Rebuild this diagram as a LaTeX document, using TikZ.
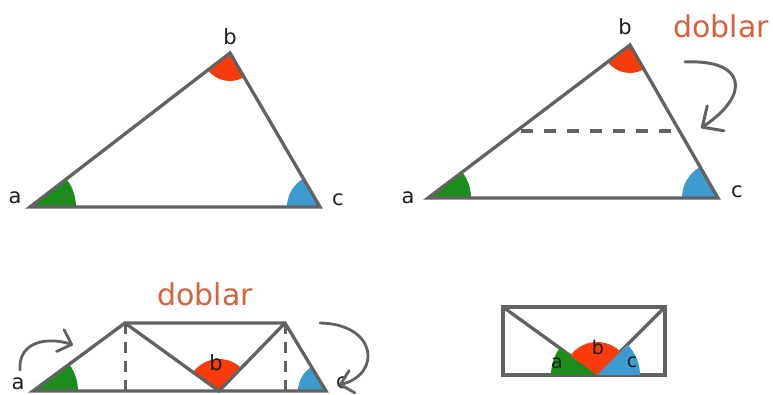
\documentclass[tikz,border=0pt]{standalone}
\usepackage{fontspec}
\setmainfont{DejaVu Sans}
\usetikzlibrary{arrows.meta}
\definecolor{ln}{RGB}{98,98,98}
\definecolor{txt}{RGB}{30,30,30}
\definecolor{fold}{RGB}{212,98,60}
\definecolor{ga}{RGB}{28,140,28}
\definecolor{rb}{RGB}{250,60,12}
\definecolor{bc}{RGB}{62,155,208}
\newcommand\mysector[5]{\fill[#1] (#2) -- ++(#3:#5pt) arc[start angle=#3,end angle=#4,radius=#5pt] -- cycle;}
\begin{document}
\begin{tikzpicture}[x=1pt,y=1pt,
  edge/.style={draw=ln, line width=3.3pt},
  dashedge/.style={draw=ln, line width=3.3pt, dash pattern=on 12pt off 11pt},
  lbl/.style={text=txt, font=\fontsize{21}{21}\selectfont, inner sep=0pt},
  slbl/.style={text=txt, font=\fontsize{19}{19}\selectfont, inner sep=0pt},
  foldtxt/.style={text=fold, font=\fontsize{30}{30}\selectfont, inner sep=0pt},
  bigarrow/.style={draw=ln, line width=3pt, line cap=round, -{Straight Barb[length=16pt,width=30pt,round]}},
  smallarrow/.style={draw=ln, line width=2.8pt, line cap=round, -{Straight Barb[length=12pt,width=23pt,round]}}]
\useasboundingbox (0,0) rectangle (773,394);
\fill[white] (0,0) rectangle (773,394);
% ---------- top-left triangle ----------
\coordinate (A1) at (30,187);
\coordinate (B1) at (230,341);
\coordinate (C1) at (320,187);
\mysector{ga}{A1}{0}{37.6}{46}
\mysector{rb}{B1}{217.6}{300.3}{28}
\mysector{bc}{C1}{120.3}{180}{33}
\draw[edge] (A1) -- (B1) -- (C1) -- cycle;
\node[lbl] (la1) at (15,196) {a};
\node[lbl] (lb1) at (230,357) {b};
\node[lbl] (lc1) at (338,194) {c};
% ---------- top-right triangle ----------
\coordinate (A2) at (428,196);
\coordinate (B2) at (630,349);
\coordinate (C2) at (718,196);
\mysector{ga}{A2}{0}{37.1}{43}
\mysector{rb}{B2}{217.1}{299.9}{28}
\mysector{bc}{C2}{119.9}{180}{36}
\draw[edge] (A2) -- (B2) -- (C2) -- cycle;
\coordinate (D1) at (521,263);
\coordinate (D2) at (678,263);
\draw[dashedge] (D1) -- (D2);
\node[lbl] (la2) at (408,196) {a};
\node[lbl] (lb2) at (625,367) {b};
\node[lbl] (lc2) at (737,202) {c};
\node[foldtxt, anchor=base west] (fold1) at (673,356) {doblar};
\coordinate (S1) at (685,332);
\coordinate (E1) at (701,266);
\draw[bigarrow] (S1) .. controls (745,335) and (752,300) .. (E1);
% ---------- bottom-left folded figure ----------
\coordinate (A3) at (33,3);
\coordinate (T1) at (125,71);
\coordinate (T2) at (285,71);
\coordinate (B3) at (219,3);
\coordinate (C3) at (326,3);
\coordinate (F1) at (125,3);
\coordinate (F2) at (285,3);
\mysector{ga}{A3}{0}{36.5}{45}
\mysector{rb}{B3}{45.9}{144.1}{32}
\mysector{bc}{C3}{121.1}{180}{28}
\draw[edge] (A3) -- (T1) -- (T2) -- (C3) -- cycle;
\draw[edge] (T1) -- (B3) -- (T2);
\draw[draw=ln, line width=3pt, dash pattern=on 11pt off 8pt] (T1) -- (F1);
\draw[draw=ln, line width=3pt, dash pattern=on 11pt off 8pt] (T2) -- (F2);
\node[foldtxt, anchor=base] (fold2) at (205,89) {doblar};
\node[lbl] (lb3) at (216,31) {b};
\node[lbl] (la3) at (18,10) {a};
\node[lbl] (lc3) at (342,11) {c};
\coordinate (S2) at (20,24);
\coordinate (E2) at (73,49);
\draw[smallarrow] (S2) .. controls (18,54) and (50,57) .. (E2);
\coordinate (S3) at (320,71);
\coordinate (E3) at (339,9);
\draw[smallarrow] (S3) .. controls (377,70) and (382,20) .. (E3);
% ---------- bottom-right envelope ----------
\coordinate (R1) at (503,19);
\coordinate (R2) at (665,87);
\coordinate (RL) at (503,87);
\coordinate (P) at (597,19);
\draw[edge] (R1) rectangle (R2);
\draw[edge] (RL) -- (P) -- (R2);
\mysector{ga}{P}{144.1}{180}{46}
\mysector{rb}{P}{45}{144.1}{33}
\mysector{bc}{P}{0}{45}{43}
\node[slbl] (la4) at (557,31) {a};
\node[slbl] (lb4) at (598,47) {b};
\node[slbl] (lc4) at (632,32) {c};
\end{tikzpicture}
\end{document}
